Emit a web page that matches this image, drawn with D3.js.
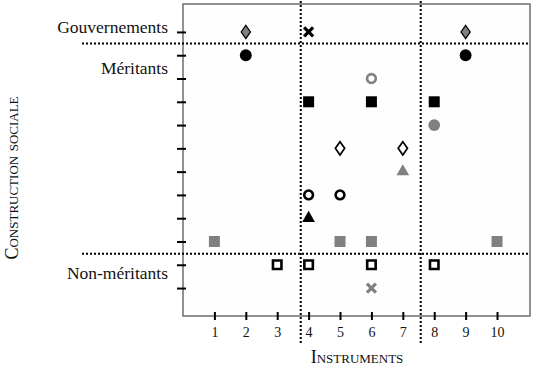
<!DOCTYPE html>
<html><head><meta charset="utf-8">
<script src="https://cdn.jsdelivr.net/npm/d3@7"></script>
<style>
body{margin:0;background:#fff;}
</style></head>
<body><svg id="c" width="537" height="371"></svg>
<script>
// ---- data ----
const xTickValues = [1,2,3,4,5,6,7,8,9,10];
const yTickValues = [1,2,3,4,5,6,7,8,9,10,11,12];
const groupLabels = ["Gouvernements","Méritants","Non-méritants"];
const groupLabelY = [12.2, 10.45, 1.65];
const hDividers = [11.5, 2.47];
const vDividers = [3.75, 7.57];
const xTitle = "Instruments";
const yTitle = "Construction sociale";

const greyDiamonds   = [[2,12],[9,12]];
const blackCrosses   = [[4,12]];
const blackCircles   = [[2,11],[9,11]];
const greyRings      = [[6,10]];
const blackSquares   = [[4,9],[6,9],[8,9]];
const greyCircles    = [[8,8]];
const openDiamonds   = [[5,7],[7,7]];
const greyTriangles  = [[7,6]];
const blackRings     = [[4,5],[5,5]];
const blackTriangles = [[4,4]];
const greySquares    = [[1,3],[5,3],[6,3],[10,3]];
const openSquares    = [[3,2],[4,2],[6,2],[8,2]];
const greyCrosses    = [[6,1]];

// ---- layout ----
const FONT = '"Liberation Serif", "Times New Roman", Times, serif';
const GREY = "#808080";
const svg = d3.select("#c");
const L = 183, R = 530, T = 4, B = 316;
const x = d3.scaleLinear().domain([0, 11.05]).range([L, R]);
const y = d3.scaleLinear().domain([-0.2, 13.2]).range([B, T]);

// frame
svg.append("rect").attr("x", L).attr("y", T).attr("width", R - L).attr("height", B - T)
  .attr("fill", "#fefefe").attr("stroke", "#6e6e6e").attr("stroke-width", 1.5);

// axes
const ya = svg.append("g").attr("transform", `translate(${L},0)`)
  .call(d3.axisLeft(y).tickValues(yTickValues).tickFormat("").tickSizeOuter(0));
ya.select(".domain").remove();
ya.selectAll(".tick line").attr("x1", -6).attr("x2", 3).attr("stroke", "#000").attr("stroke-width", 2);

const xa = svg.append("g").attr("transform", `translate(0,${B})`)
  .call(d3.axisBottom(x).tickValues(xTickValues).tickSizeOuter(0));
xa.attr("font-family", null);
xa.select(".domain").remove();
xa.selectAll(".tick line").attr("y1", -4).attr("y2", 4).attr("stroke", "#000").attr("stroke-width", 2);
xa.selectAll(".tick text").attr("y", 11).attr("dy", "0.71em")
  .style("font-family", FONT).style("font-size", "14px").attr("fill", "#111");

// dividers
svg.selectAll(".hd").data(hDividers).join("line")
  .attr("x1", 82).attr("x2", R).attr("y1", d => y(d)).attr("y2", d => y(d))
  .attr("stroke", "#000").attr("stroke-width", 2).attr("stroke-dasharray", "2,2");
svg.selectAll(".vd").data(vDividers).join("line")
  .attr("x1", d => x(d)).attr("x2", d => x(d)).attr("y1", 1).attr("y2", 343)
  .attr("stroke", "#000").attr("stroke-width", 2).attr("stroke-dasharray", "2,2");

// group labels
svg.selectAll(".gl").data(groupLabels).join("text")
  .attr("x", 168).attr("y", (d, i) => y(groupLabelY[i])).attr("dy", "0.35em")
  .attr("text-anchor", "end").style("font-family", FONT).style("font-size", "17.5px")
  .attr("fill", "#111").text(d => d);

// titles
svg.append("text").attr("x", 357).attr("y", 357).attr("dy", "0.35em")
  .attr("text-anchor", "middle").style("font-family", FONT).style("font-size", "18px")
  .style("font-variant", "small-caps").attr("fill", "#111").text(xTitle);
svg.append("text").attr("transform", "translate(12,178) rotate(-90)").attr("dy", "0.35em")
  .attr("text-anchor", "middle").style("font-family", FONT).style("font-size", "18px")
  .style("font-variant", "small-caps").attr("fill", "#111").text(yTitle);

// custom wider diamond symbol (width:height ~ 0.7)
const wideDiamond = {
  draw(ctx, size) {
    const h = Math.sqrt(size / 1.4);   // half height
    const w = h * 0.7;                 // half width
    ctx.moveTo(0, -h); ctx.lineTo(w, 0); ctx.lineTo(0, h); ctx.lineTo(-w, 0); ctx.closePath();
  }
};

// markers
const g = svg.append("g");
function sym(data, type, size, fill, stroke, sw) {
  g.selectAll(null).data(data).join("path")
    .attr("transform", d => `translate(${x(d[0])},${y(d[1])})`)
    .attr("d", d3.symbol().type(type).size(size))
    .attr("fill", fill).attr("stroke", stroke).attr("stroke-width", sw);
}
function cross(data, color) {
  const s = 4.5;
  data.forEach(d => {
    const cx = x(d[0]), cy = y(d[1]);
    g.append("path").attr("d", `M${cx-s},${cy-s}L${cx+s},${cy+s}M${cx-s},${cy+s}L${cx+s},${cy-s}`)
      .attr("stroke", color).attr("stroke-width", 3.2).attr("fill", "none");
  });
}
sym(greyDiamonds, wideDiamond, 62, GREY, "#000", 1.2);
sym(openDiamonds, wideDiamond, 62, "#fff", "#000", 1.7);
sym(blackCircles, d3.symbolCircle, 110, "#000", "none", 0);
sym(greyCircles, d3.symbolCircle, 110, GREY, "none", 0);
sym(blackRings, d3.symbolCircle, 60, "none", "#000", 2.6);
sym(greyRings, d3.symbolCircle, 60, "none", GREY, 2.6);
sym(blackSquares, d3.symbolSquare, 121, "#000", "none", 0);
sym(greySquares, d3.symbolSquare, 121, GREY, "none", 0);
sym(openSquares, d3.symbolSquare, 72, "#fff", "#000", 2.6);
sym(blackTriangles, d3.symbolTriangle, 70, "#000", "none", 0);
sym(greyTriangles, d3.symbolTriangle, 70, GREY, "none", 0);
cross(blackCrosses, "#000");
cross(greyCrosses, GREY);
</script></body></html>
